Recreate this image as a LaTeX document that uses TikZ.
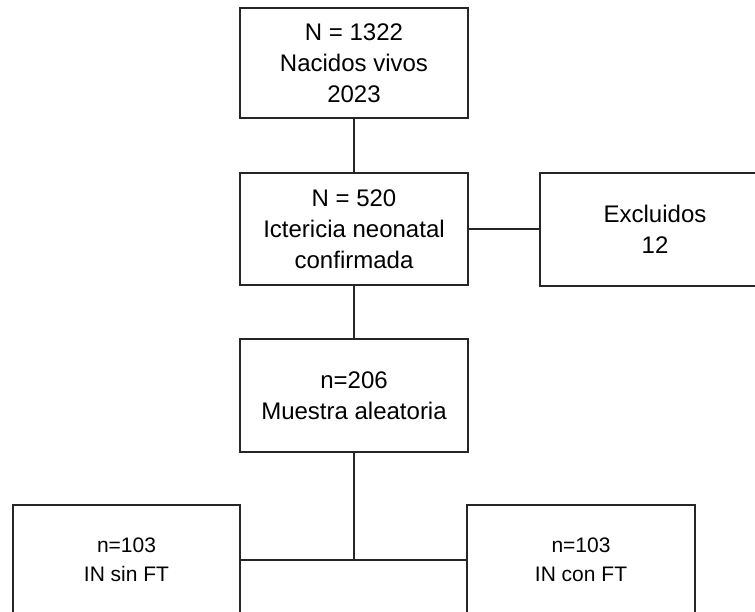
\documentclass[tikz,border=0pt]{standalone}
\usepackage{fontspec}
\setmainfont{Liberation Sans}
\begin{document}
\begin{tikzpicture}[x=1pt,y=-1pt,
  box/.style={draw=black!85,line width=1.3pt,fill=white,rectangle,align=center,
    inner sep=0pt,font=\fontsize{24}{31}\selectfont},
  smallbox/.style={box,font=\fontsize{21}{29}\selectfont},
  thickbox/.style={box,line width=2pt},
  conn/.style={draw=black!85,line width=1.3pt}]
\useasboundingbox (0,0) rectangle (755,611);
\node[box,minimum width=228pt,minimum height=110pt] (b1) at (354,63) {N = 1322\\Nacidos vivos\\2023};
\node[box,minimum width=228pt,minimum height=112pt] (b2) at (354,229) {N = 520\\Ictericia neonatal\\confirmada};
\node[thickbox,minimum width=230pt,minimum height=113pt] (ex) at (655,229) {Excluidos\\12};
\node[box,minimum width=228pt,minimum height=113pt] (b3) at (354,395.5) {n=206\\Muestra aleatoria};
\node[smallbox,minimum width=227pt,minimum height=110pt] (l) at (126.5,560) {n=103\\IN sin FT};
\node[smallbox,minimum width=228pt,minimum height=110pt] (r) at (581,560) {n=103\\IN con FT};
\draw[conn] (b1.south) -- (b2.north);
\draw[conn] (b2.south) -- (b3.north);
\draw[conn,line width=1.8pt] (b2.east) -- (ex.west);
\draw[conn] (b3.south) -- (b3.south |- l.east);
\draw[conn] (l.east) -- (r.west);
\end{tikzpicture}
\end{document}
